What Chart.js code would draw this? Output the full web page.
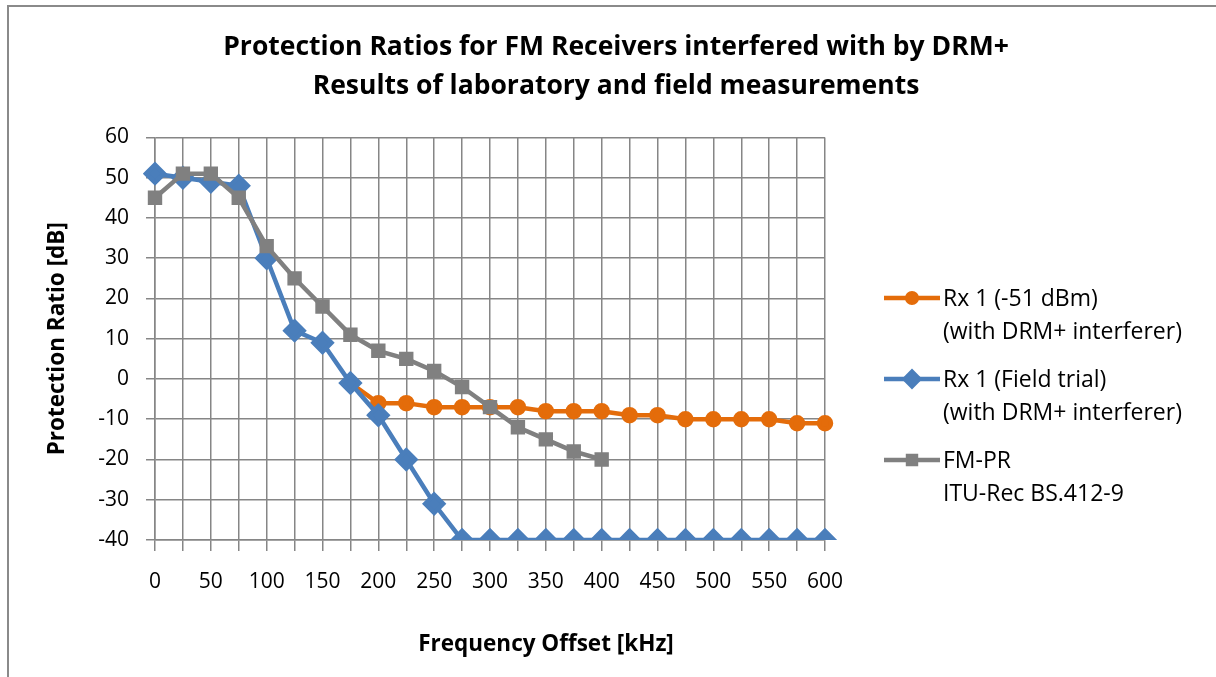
<!DOCTYPE html>
<html>
<head>
<meta charset="utf-8">
<script src="https://cdn.jsdelivr.net/npm/chart.js@4"></script>
<style>
  html, body { margin: 0; padding: 0; background: #fff; overflow: hidden; }
  #frame { position: absolute; left: 7px; top: 5px; width: 1260px; height: 720px; border: 2px solid #8a8a8a; }
  #wrap { position: absolute; left: 0; top: 0; width: 1216px; height: 677px; }
</style>
</head>
<body>
<div id="frame"></div>
<div id="wrap"><canvas id="grafico"></canvas></div>
<script>
// Datos
const frecuencias = ['0','25','50','75','100','125','150','175','200','225','250','275','300',
  '325','350','375','400','425','450','475','500','525','550','575','600'];
const rxLab = [null, null, null, null, null, null, null, -1, -6, -6, -7, -7, -7,
  -7, -8, -8, -8, -9, -9, -10, -10, -10, -10, -11, -11];
const rxCampo = [51, 50, 49, 48, 30, 12, 9, -1, -9, -20, -31, -40, -40,
  -40, -40, -40, -40, -40, -40, -40, -40, -40, -40, -40, -40];
const fmPR = [45, 51, 51, 45, 33, 25, 18, 11, 7, 5, 2, -2, -7,
  -12, -15, -18, -20, null, null, null, null, null, null, null, null];
const leyendas = [
  ['Rx 1 (-51 dBm)', '(with DRM+ interferer)'],
  ['Rx 1 (Field trial)', '(with DRM+ interferer)'],
  ['FM-PR', 'ITU-Rec BS.412-9']
];
const titulo = ['Protection Ratios for FM Receivers interfered with by DRM+',
  'Results of laboratory and field measurements'];
const tituloX = 'Frequency Offset [kHz]';
const tituloY = 'Protection Ratio [dB]';

const fuente = '"Open Sans", Lato, sans-serif';
const gris = '#868686';

// leyenda a la derecha, de varias lineas
const leyendaPlugin = {
  id: 'leyendaMulti',
  afterDraw(chart) {
    const ctx = chart.ctx;
    ctx.save();
    ctx.font = '23px ' + fuente;
    ctx.fillStyle = '#000';
    ctx.textBaseline = 'middle';
    ctx.textAlign = 'left';
    chart.data.datasets.forEach((ds, i) => {
      const y = 298 + i * 81;
      ctx.strokeStyle = ds.borderColor;
      ctx.lineWidth = 4.5;
      ctx.beginPath();
      ctx.moveTo(884, y);
      ctx.lineTo(940, y);
      ctx.stroke();
      Chart.helpers.drawPoint(ctx, {
        pointStyle: ds.pointStyle, radius: ds.pointRadius * 0.8, borderWidth: 1
      }, 912, y);
      ctx.fillStyle = ds.borderColor;
      ctx.fill();
      ctx.fillStyle = '#000';
      leyendas[i].forEach((t, j) => ctx.fillText(t, 943, y + 1 + j * 33));
    });
    // titulo del eje X
    ctx.font = 'bold 22.5px ' + fuente;
    ctx.textAlign = 'center';
    ctx.fillText(tituloX, 546, 645);
    ctx.restore();
  }
};

const $grafico = document.querySelector('#grafico');

new Chart($grafico, {
  type: 'line',
  data: {
    labels: frecuencias,
    datasets: [{
      label: leyendas[0].join(' '),
      data: rxLab,
      borderColor: '#E46C0A',
      backgroundColor: '#E46C0A',
      pointStyle: 'circle',
      pointRadius: 6,
      borderWidth: 4.5,
      order: 3
    }, {
      label: leyendas[1].join(' '),
      data: rxCampo,
      borderColor: '#4A7EBB',
      backgroundColor: '#4A7EBB',
      pointStyle: 'rectRot',
      pointRadius: 9,
      borderWidth: 4.5,
      order: 2
    }, {
      label: leyendas[2].join(' '),
      data: fmPR,
      borderColor: '#808080',
      backgroundColor: '#808080',
      pointStyle: 'rect',
      pointRadius: 7,
      borderWidth: 4.5,
      order: 1
    }]
  },
  options: {
    responsive: true,
    maintainAspectRatio: false,
    animation: false,
    spanGaps: false,
    layout: { padding: { left: 16, right: 0, top: 0, bottom: 0 } },
    elements: { line: { tension: 0 }, point: { borderWidth: 0, hoverRadius: 8 } },
    plugins: {
      legend: { display: false },
      tooltip: { enabled: false },
      title: {
        display: true,
        text: titulo,
        color: '#000',
        font: { family: fuente, size: 26.5, weight: 'bold', lineHeight: 1.48 },
        padding: { top: 28, bottom: 31 }
      }
    },
    scales: {
      x: {
        afterFit: s => { s.height = 137; },
        grid: { color: gris, lineWidth: 1.5, tickLength: 11, tickColor: gris },
        border: { color: gris, width: 1.5 },
        ticks: {
          color: '#000',
          font: { family: fuente, size: 21 },
          padding: 18,
          autoSkip: false,
          maxRotation: 0,
          callback: (v, i) => (i % 2 === 0 ? frecuencias[i] : '')
        }
      },
      y: {
        min: -40,
        max: 60,
        afterFit: s => { s.width = 139; },
        grid: { color: gris, lineWidth: 1.5, tickLength: 9, tickColor: gris },
        border: { color: gris, width: 1.5 },
        ticks: {
          stepSize: 10,
          color: '#000',
          font: { family: fuente, size: 21 },
          padding: 17
        },
        title: {
          display: true,
          text: tituloY,
          color: '#000',
          font: { family: fuente, size: 22.5, weight: 'bold' },
          padding: { top: 28 }
        }
      },
      // espacio reservado para la leyenda
      hueco: {
        type: 'linear',
        position: 'right',
        display: true,
        afterFit: s => { s.width = 391; },
        grid: { display: false },
        border: { display: false },
        ticks: { display: false }
      }
    }
  },
  plugins: [leyendaPlugin]
});
</script>
</body>
</html>
